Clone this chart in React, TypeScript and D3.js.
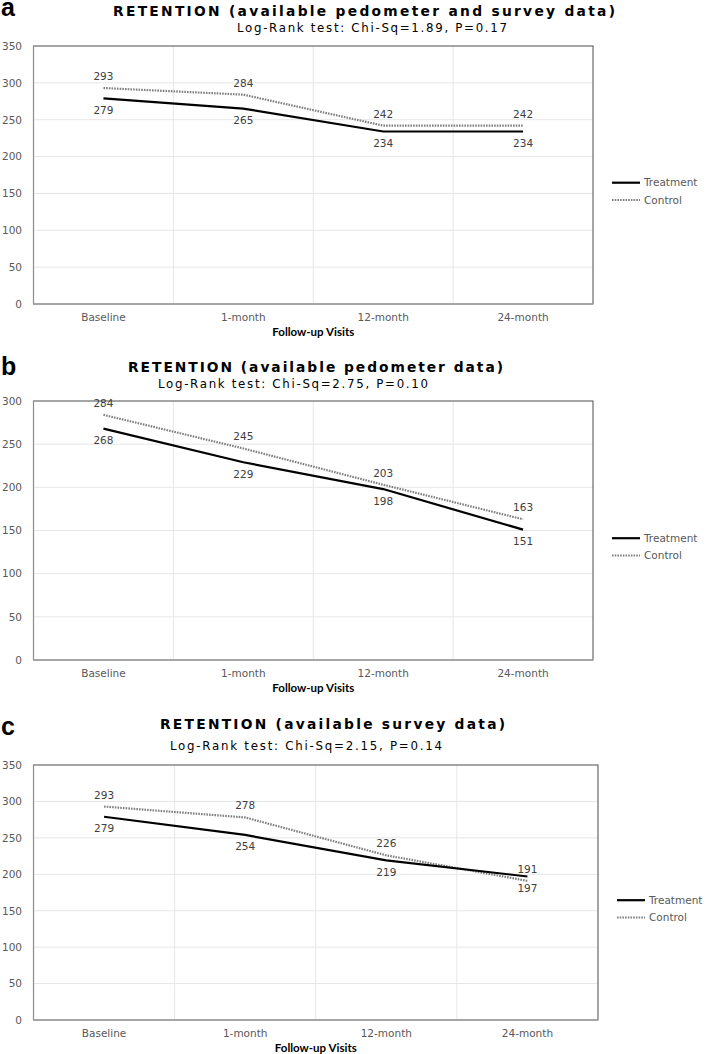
import React from "react";
import * as d3 from "d3";

// ---------- data ----------
const categories = ["Baseline", "1-month", "12-month", "24-month"];
const seriesNames = ["Treatment", "Control"];
const xAxisTitle = "Follow-up Visits";

const panelLetters = ["a", "b", "c"];
const panelTitles = [
  "RETENTION (available pedometer and survey data)",
  "RETENTION (available pedometer data)",
  "RETENTION (available survey data)",
];
const panelSubtitles = [
  "Log-Rank test: Chi-Sq=1.89, P=0.17",
  "Log-Rank test: Chi-Sq=2.75, P=0.10",
  "Log-Rank test: Chi-Sq=2.15, P=0.14",
];

const treatmentA = [279, 265, 234, 234];
const controlA = [293, 284, 242, 242];
const treatmentB = [268, 229, 198, 151];
const controlB = [284, 245, 203, 163];
const treatmentC = [279, 254, 219, 197];
const controlC = [293, 278, 226, 191];

const yMaxes = [350, 300, 350];
const yTickStep = 50;

const treatmentSeries = [treatmentA, treatmentB, treatmentC];
const controlSeries = [controlA, controlB, controlC];

// ---------- layout (pixels) ----------
const layouts = [
  { left: 33.5, right: 593, top: 46, bottom: 304, letterY: 16, titleX: 113, titleY: 15.5, titleLen: 502, subX: 237, subY: 31.5, subLen: 270, catY: 320.5, axisY: 335.5 },
  { left: 33.5, right: 593, top: 401, bottom: 660, letterY: 375, titleX: 128, titleY: 372, titleLen: 375, subX: 158, subY: 388.3, subLen: 270, catY: 677, axisY: 692 },
  { left: 33.5, right: 598, top: 765, bottom: 1020, letterY: 735, titleX: 160, titleY: 728.5, titleLen: 345, subX: 170, subY: 750, subLen: 272, catY: 1036.5, axisY: 1052 },
];

const TICK_FONT = "'DejaVu Sans', sans-serif";

function Panel({ idx }: { idx: number }) {
  const L = layouts[idx];
  const yMax = yMaxes[idx];
  const x = d3.scaleBand<string>().domain(categories).range([L.left, L.right]);
  const y = d3.scaleLinear().domain([0, yMax]).range([L.bottom, L.top]);
  const cx = (c: string) => (x(c) as number) + x.bandwidth() / 2;
  const ticks = d3.range(0, yMax + 1, yTickStep);
  const line = d3
    .line<number>()
    .x((_, i) => cx(categories[i]))
    .y((v) => y(v));
  const tr = treatmentSeries[idx];
  const ct = controlSeries[idx];
  const midY = (L.top + L.bottom) / 2;
  const legX = L.right + 19;

  return (
    <g>
      <text x={1} y={L.letterY} fontFamily="'Liberation Sans', Arial, sans-serif" fontWeight="bold" fontSize={25} fill="#000">
        {panelLetters[idx]}
      </text>
      <text x={L.titleX} y={L.titleY} fontFamily={TICK_FONT} fontWeight="bold" fontSize={13.8} fill="#000" textLength={L.titleLen} lengthAdjust="spacing">
        {panelTitles[idx]}
      </text>
      <text x={L.subX} y={L.subY} fontFamily={TICK_FONT} fontSize={11.8} fill="#000" textLength={L.subLen} lengthAdjust="spacing">
        {panelSubtitles[idx]}
      </text>

      {/* grid */}
      {ticks.slice(1, -1).map((t) => (
        <line key={"h" + t} x1={L.left} x2={L.right} y1={y(t)} y2={y(t)} stroke="#e6e6e6" strokeWidth={1} />
      ))}
      {categories.slice(1).map((c) => (
        <line key={"v" + c} x1={x(c)} x2={x(c)} y1={L.top} y2={L.bottom} stroke="#e6e6e6" strokeWidth={1} />
      ))}
      {/* border */}
      <rect x={L.left} y={L.top} width={L.right - L.left} height={L.bottom - L.top} fill="none" stroke="#4d4d4d" strokeWidth={1} />
      <line x1={L.left} x2={L.left} y1={L.top} y2={L.bottom} stroke="#8c8c8c" strokeWidth={1.2} />
      <line x1={L.left} x2={L.right} y1={L.bottom} y2={L.bottom} stroke="#a6a6a6" strokeWidth={1.5} />

      {/* y tick labels */}
      {ticks.map((t) => (
        <text key={"t" + t} x={22} y={y(t) + 3.8} textAnchor="end" fontFamily={TICK_FONT} fontSize={10.5} fill="#595959">
          {t}
        </text>
      ))}
      {/* x labels */}
      {categories.map((c) => (
        <text key={"c" + c} x={cx(c)} y={L.catY} textAnchor="middle" fontFamily={TICK_FONT} fontSize={10.5} fill="#595959">
          {c}
        </text>
      ))}
      <text x={(L.left + L.right) / 2} y={L.axisY} textAnchor="middle" fontFamily="Lato, 'Liberation Sans', sans-serif" fontWeight="bold" fontSize={11.5} fill="#000">
        {xAxisTitle}
      </text>

      {/* lines */}
      <path d={line(ct) || ""} fill="none" stroke="#808080" strokeWidth={2.2} strokeDasharray="1.6 1.1" />
      <path d={line(tr) || ""} fill="none" stroke="#000" strokeWidth={2.2} />

      {/* data labels */}
      {ct.map((v, i) => (
        <text key={"cl" + i} x={cx(categories[i])} y={y(v) - 8} textAnchor="middle" fontFamily={TICK_FONT} fontSize={10.5} fill="#404040">
          {v}
        </text>
      ))}
      {tr.map((v, i) => (
        <text key={"tl" + i} x={cx(categories[i])} y={y(v) + 15.5} textAnchor="middle" fontFamily={TICK_FONT} fontSize={10.5} fill="#404040">
          {v}
        </text>
      ))}

      {/* legend */}
      <line x1={legX} x2={legX + 28} y1={midY + 7.7} y2={midY + 7.7} stroke="#000" strokeWidth={2.2} />
      <text x={legX + 32} y={midY + 11.4} fontFamily={TICK_FONT} fontSize={10.5} fill="#595959">
        {seriesNames[0]}
      </text>
      <line x1={legX} x2={legX + 28} y1={midY + 25} y2={midY + 25} stroke="#808080" strokeWidth={2.2} strokeDasharray="1.6 1.1" />
      <text x={legX + 32} y={midY + 28.7} fontFamily={TICK_FONT} fontSize={10.5} fill="#595959">
        {seriesNames[1]}
      </text>
    </g>
  );
}

export default function App() {
  return (
    <svg
      width={709}
      height={1054}
      viewBox="0 0 709 1054"
      style={{ position: "absolute", left: 0, top: 0, background: "#fff" }}
    >
      <rect width={709} height={1054} fill="#fff" />
      {[0, 1, 2].map((i) => (
        <Panel key={i} idx={i} />
      ))}
    </svg>
  );
}
